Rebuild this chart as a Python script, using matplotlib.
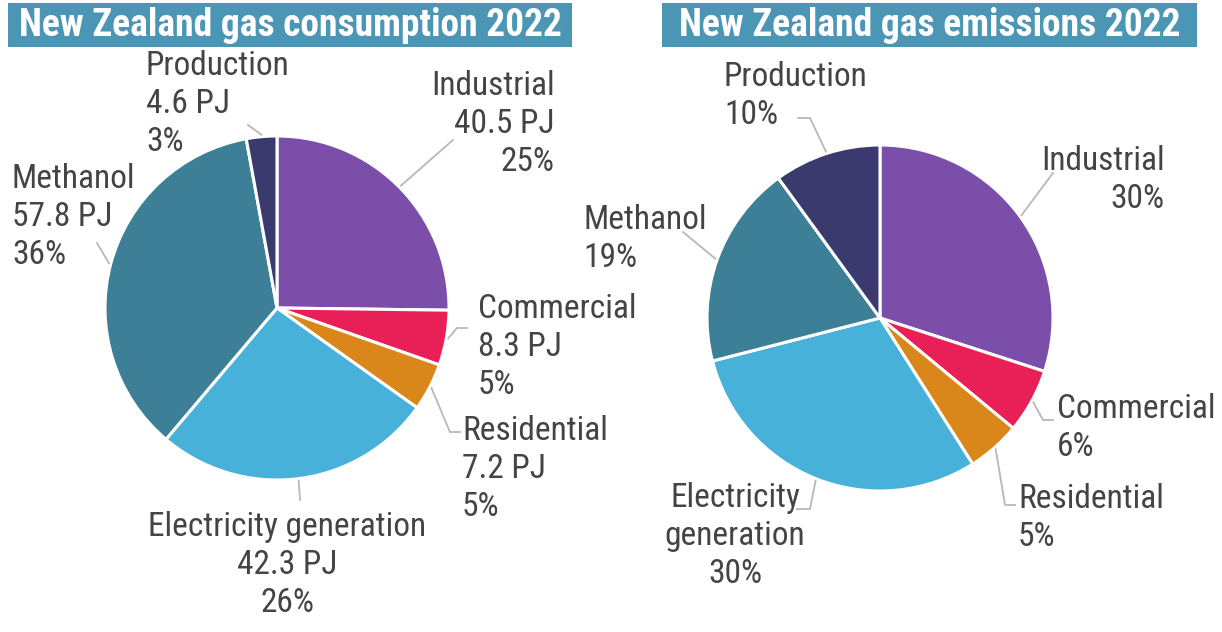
import numpy as np
import matplotlib.pyplot as plt
from matplotlib.patches import Rectangle

sectors = ['Industrial', 'Commercial', 'Residential', 'Electricity generation', 'Methanol', 'Production']
consumption_pj = [40.5, 8.3, 7.2, 42.3, 57.8, 4.6]
consumption_pct = [25, 5, 5, 26, 36, 3]
emissions_pct = [30, 6, 5, 30, 19, 10]
colors = ['#7b4fa9', '#e91f57', '#d9861a', '#47b1da', '#3e7f98', '#3a3a6f']

W, H = 1222, 632
plt.rcParams['font.family'] = ['Roboto Condensed', 'Liberation Sans Narrow', 'Roboto', 'DejaVu Sans']

fig = plt.figure(figsize=(W / 100, H / 100), dpi=100)
ax = fig.add_axes([0, 0, 1, 1])


def draw_pie(values, cx, cy, r, labels, layout):
    ax.pie(values, colors=colors, startangle=90, counterclock=False,
           center=(cx, H - cy), radius=r,
           wedgeprops=dict(edgecolor='white', linewidth=2.2))
    vals = np.array(values, dtype=float)
    cum = np.cumsum(vals) - vals / 2
    mids = 90 - cum / vals.sum() * 360
    for mid, text, (tx, ty, ha, path) in zip(mids, labels, layout):
        a = np.deg2rad(mid)
        sx, sy = cx + (r + 2) * np.cos(a), cy - (r + 2) * np.sin(a)
        xs = [sx] + [p[0] for p in path]
        ys = [H - sy] + [H - p[1] for p in path]
        ax.plot(xs, ys, color='#b8b8b8', lw=1.3)
        ax.text(tx, H - ty, text, ha=ha, va='top', fontsize=24, color='#444444',
                linespacing=1.24, multialignment=ha)


def title_bar(x0, x1, text):
    ax.add_patch(Rectangle((x0, H - 47), x1 - x0, 44, color='#4b96b5', lw=0))
    ax.text((x0 + x1) / 2, H - 25, text, ha='center', va='center', color='white',
            fontsize=27, fontweight='bold')


# left pie: consumption
left_labels = [f'{s}\n{v} PJ\n{p}%' for s, v, p in zip(sectors, consumption_pj, consumption_pct)]
left_layout = [
    (555, 70, 'right', [(453, 140)]),
    (478, 293, 'left', [(457, 328), (467, 328)]),
    (462, 415, 'left', [(450, 432), (460, 432)]),
    (287, 511, 'center', [(300, 500)]),
    (12, 163, 'left', [(97, 243)]),
    (146, 50, 'left', [(248, 125)]),
]
draw_pie(consumption_pj, 277, 308, 172, left_labels, left_layout)

# right pie: emissions
right_labels = [f'{s.replace(" ", chr(10))}\n{p}%' for s, p in zip(sectors, emissions_pct)]
right_layout = [
    (1165, 145, 'right', [(1053, 173)]),
    (1057, 393, 'left', [(1043, 420), (1053, 420)]),
    (1018, 483, 'left', [(1005, 505), (1015, 505)]),
    (735, 482, 'center', [(810, 509), (797, 509)]),
    (583, 204, 'left', [(683, 232)]),
    (724, 61, 'left', [(810, 118), (798, 118)]),
]
draw_pie(emissions_pct, 880, 318, 173, right_labels, right_layout)

title_bar(8, 572, 'New Zealand gas consumption 2022')
title_bar(662, 1197, 'New Zealand gas emissions 2022')

ax.set_xlim(0, W)
ax.set_ylim(0, H)
ax.set_aspect('equal')
ax.axis('off')
fig.savefig('out.png', dpi=100)
